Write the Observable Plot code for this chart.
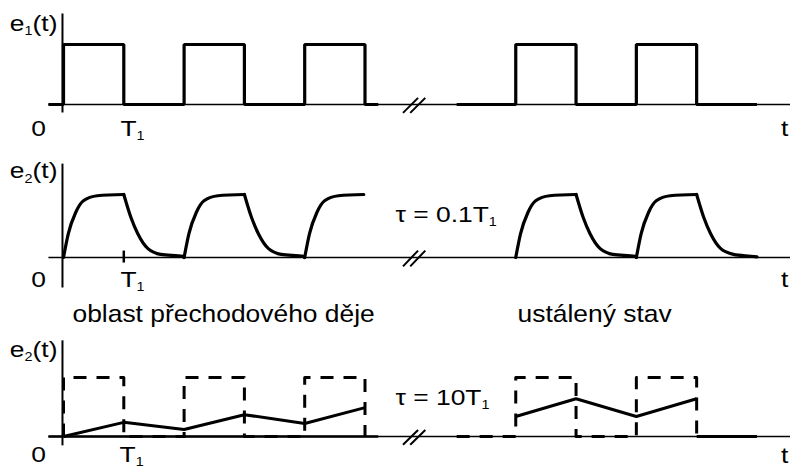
<!DOCTYPE html>
<html><head><meta charset="utf-8">
<script src="https://cdn.jsdelivr.net/npm/d3@7"></script>
<script src="https://cdn.jsdelivr.net/npm/@observablehq/plot@0.6"></script>
<style>
html,body{margin:0;padding:0;background:#fff;}
#chart{width:790px;}
#chart svg{display:block;}
</style></head><body><div id="chart"></div>
<script>
// ---------- data: time in units of T1, amplitude normalised to 1 ----------
// e1(t): rectangular input (step-after points)
const e1LeftT  = [-0.25, 0, 1, 2, 3, 4, 5, 5.22];
const e1LeftV  = [0, 1, 0, 1, 0, 1, 0, 0];
const e1RightT = [6.52, 7.5, 8.5, 9.5, 10.5, 11.5];
const e1RightV = [0, 1, 0, 1, 0, 0];

// e2(t), tau = 0.1 T1 : curve segments [t, v]
const fastRise1 = [[0,0],[0.08,0.38],[0.2,0.71],[0.33,0.9],[0.56,0.98],[1,1]];
const fastFall1 = [[1,1],[1.12,0.63],[1.23,0.38],[1.4,0.14],[1.61,0.05],[1.98,0.02],[2,0]];
const fastRise2 = [[2,0],[2.08,0.38],[2.2,0.71],[2.33,0.9],[2.56,0.98],[3,1]];
const fastFall2 = [[3,1],[3.12,0.63],[3.23,0.38],[3.4,0.14],[3.61,0.05],[3.98,0.02],[4,0]];
const fastRise3 = [[4,0],[4.08,0.38],[4.2,0.71],[4.33,0.9],[4.56,0.98],[4.98,1]];
const fastRise4 = [[7.5,0],[7.58,0.38],[7.7,0.71],[7.83,0.9],[8.06,0.98],[8.5,1]];
const fastFall4 = [[8.5,1],[8.62,0.63],[8.73,0.38],[8.9,0.14],[9.11,0.05],[9.48,0.02],[9.5,0]];
const fastRise5 = [[9.5,0],[9.58,0.38],[9.7,0.71],[9.83,0.9],[10.06,0.98],[10.5,1]];
const fastFall5 = [[10.5,1],[10.62,0.63],[10.73,0.38],[10.9,0.14],[11.11,0.05],[11.4,0.02],[11.5,0.01]];

// e2(t), tau = 10 T1 : dashed input and solid output
const slowInLeftT   = [0, 0, 1, 2, 3, 4, 5];
const slowInLeftV   = [0, 1, 0, 1, 0, 1, 0];
const slowInRightT  = [6.52, 7.5, 8.5, 9.5, 10.5];
const slowInRightV  = [0, 1, 0, 1, 0];
const slowTailT     = [10.5, 11.5];
const slowOutLeftT  = [0, 1, 2, 3, 4, 5];
const slowOutLeftV  = [0, 0.24, 0.12, 0.37, 0.22, 0.49];
const slowOutRightT = [7.5, 8.5, 9.5, 10.5];
const slowOutRightV = [0.34, 0.64, 0.34, 0.64];

// axis break "//"
const breakT1 = [5.63, 5.75];
const breakT2 = [5.88, 6.0];
const breakV  = [-0.14, 0.11];

// text labels ("_" marks a subscript)
const p1Labels = [
  {text: "e_1(t)", t: -0.1, v: 1.233, anchor: "end"},
  {text: "0", t: -0.415, v: -0.517, anchor: "middle"},
  {text: "t", t: 11.96, v: -0.517, anchor: "middle"},
  {text: "T_1", t: 0.945, v: -0.517, anchor: "start"}
];
const p2Labels = [
  {text: "e_2(t)", t: -0.1, v: 1.254, anchor: "end"},
  {text: "0", t: -0.415, v: -0.476, anchor: "middle"},
  {text: "t", t: 11.96, v: -0.476, anchor: "middle"},
  {text: "T_1", t: 0.945, v: -0.476, anchor: "start"},
  {text: "τ = 0.1T_1", t: 5.506, v: 0.556, anchor: "start"}
];
const regionLabels = [
  {text: "oblast přechodového děje", t: 0.149, v: -1.03},
  {text: "ustálený stav", t: 7.53, v: -1.03}
];
const p3Labels = [
  {text: "e_2(t)", t: -0.1, v: 1.34, anchor: "end"},
  {text: "0", t: -0.415, v: -0.44, anchor: "middle"},
  {text: "t", t: 11.96, v: -0.45, anchor: "middle"},
  {text: "T_1", t: 0.93, v: -0.44, anchor: "start"},
  {text: "τ = 10T_1", t: 5.506, v: 0.54, anchor: "start"}
];

// ---------- helpers ----------
const zip = (T, V) => T.map((t, i) => ({t, v: V[i]}));
const segs = (list) => list.flatMap((s, k) => s.map(([t, v]) => ({t, v, k})));

function axes(vTop, vBottom) {
  return [
    Plot.link([{x1: -0.25, x2: 12.1, y1: 0, y2: 0}], {x1: "x1", x2: "x2", y1: "y1", y2: "y2", stroke: "black", strokeWidth: 1.7}),
    Plot.link([{x1: -0.017, x2: -0.017, y1: vTop, y2: vBottom}], {x1: "x1", x2: "x2", y1: "y1", y2: "y2", stroke: "black", strokeWidth: 2}),
    Plot.link(breakT1.map((t, i) => ({x1: t, x2: breakT2[i], y1: breakV[0], y2: breakV[1]})),
      {x1: "x1", x2: "x2", y1: "y1", y2: "y2", stroke: "black", strokeWidth: 2})
  ];
}
function labels(list) {
  return ["start", "middle", "end"].map(a =>
    Plot.text(list.filter(d => d.anchor === a), {x: "t", y: "v", text: "text", textAnchor: a, lineAnchor: "bottom", fontSize: 22, fill: "black"}));
}
function panel(height, base, top, marks) {
  return Plot.plot({
    width: 790, height, margin: 0,
    x: {domain: [0, 10.5], range: [63, 696.15], axis: null},
    y: {domain: [0, 1], range: [base, top], axis: null},
    style: {fontFamily: "'Liberation Sans', Arial, sans-serif", background: "white", overflow: "visible", color: "black"},
    marks
  });
}
const thick = {x: "t", y: "v", stroke: "black", strokeWidth: 3.2, strokeLinejoin: "miter", strokeLinecap: "butt"};

// ---------- panel 1 : e1(t) ----------
const p1 = panel(145, 104, 44, [
  ...axes(1.517, -0.133),
  Plot.line(zip(e1LeftT, e1LeftV), {...thick, curve: "step-after"}),
  Plot.line(zip(e1RightT, e1RightV), {...thick, curve: "step-after"}),
  ...labels(p1Labels)
]);

// ---------- panel 2 : tau = 0.1 T1 ----------
const p2 = panel(175, 112, 49, [
  ...axes(1.49, -0.476),
  Plot.link([{x1: 1, x2: 1, y1: -0.08, y2: 0.11}], {x1: "x1", x2: "x2", y1: "y1", y2: "y2", stroke: "black", strokeWidth: 2.5}),
  Plot.line(segs([fastRise1, fastFall1, fastRise2, fastFall2, fastRise3, fastRise4, fastFall4, fastRise5, fastFall5]),
    {x: "t", y: "v", z: "k", curve: "monotone-x", stroke: "black", strokeWidth: 3.2, strokeLinecap: "round"}),
  ...labels(p2Labels),
  Plot.text(regionLabels, {x: "t", y: "v", text: "text", textAnchor: "start", lineAnchor: "bottom", fontSize: 24, fill: "black"})
]);

// ---------- panel 3 : tau = 10 T1 ----------
const dashed = {x: "t", y: "v", stroke: "black", strokeWidth: 3, strokeDasharray: "13,10", curve: "step-after", strokeLinecap: "butt"};
const p3 = panel(148, 116, 57, [
  ...axes(1.63, -0.15),
  Plot.line(zip([-0.25, 5.22], [0, 0]), {...thick, strokeWidth: 2.6}),
  Plot.line(zip(slowInLeftT, slowInLeftV), dashed),
  Plot.line(zip(slowInRightT, slowInRightV), dashed),
  Plot.line(zip(slowTailT, [0, 0]), thick),
  Plot.line(zip(slowOutLeftT, slowOutLeftV), {...thick, strokeWidth: 3}),
  Plot.line(zip(slowOutRightT, slowOutRightV), {...thick, strokeWidth: 3}),
  ...labels(p3Labels)
]);

// ---------- text finishing: horizontal stretch + subscripts ----------
const NS = "http://www.w3.org/2000/svg";
function finish(svg) {
  svg.querySelectorAll("text").forEach(el => {
    const g = el.closest("g");
    const fs = +(g && g.getAttribute("font-size") || 22);
    const sx = fs >= 24 ? 1.1 : 1.2;
    let tr = el.getAttribute("transform");
    if (!tr) {
      const x = el.getAttribute("x") || 0, y = el.getAttribute("y") || 0;
      tr = `translate(${x},${y})`;
      el.removeAttribute("x");
    }
    el.setAttribute("transform", `${tr} scale(${sx},1)`);
    const s = el.textContent;
    if (s.includes("_")) {
      const i = s.indexOf("_");
      const head = s.slice(0, i), sub = s[i + 1], tail = s.slice(i + 2);
      el.textContent = "";
      const a = document.createElementNS(NS, "tspan"); a.textContent = head; el.appendChild(a);
      const b = document.createElementNS(NS, "tspan"); b.textContent = sub;
      b.setAttribute("font-size", "12"); b.setAttribute("dy", "4"); el.appendChild(b);
      if (tail) {
        const c = document.createElementNS(NS, "tspan"); c.textContent = tail;
        c.setAttribute("dy", "-4"); el.appendChild(c);
      }
    }
  });
  return svg;
}
const chart = document.getElementById("chart");
[p1, p2, p3].forEach(s => chart.appendChild(finish(s)));
</script></body></html>
